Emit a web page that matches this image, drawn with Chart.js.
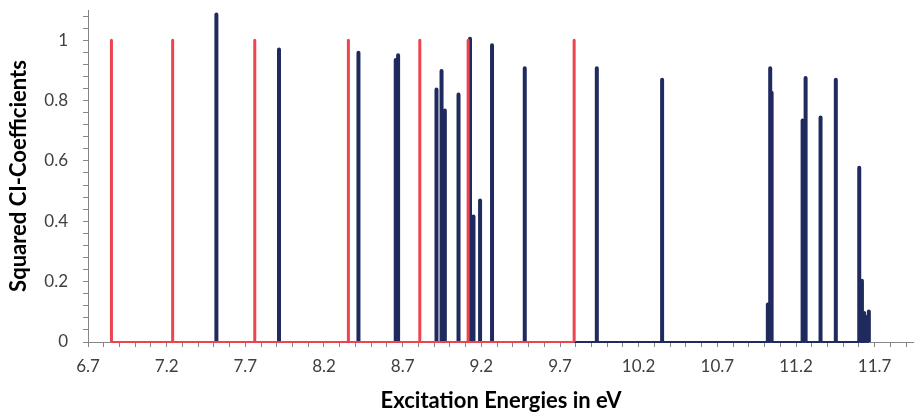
<!DOCTYPE html>
<html>
<head>
<meta charset="utf-8">
<title>Squared CI-Coefficients</title>
<script src="https://cdn.jsdelivr.net/npm/chart.js@4.4.1/dist/chart.umd.min.js"></script>
<style>
  html, body { margin: 0; padding: 0; background: #fff; }
  #wrap { width: 914px; height: 414px; }
</style>
</head>
<body>
<div id="wrap"><canvas id="ciChart"></canvas></div>
<script>
// Excitation energies (eV) and squared CI coefficients
const redEnergies = [6.849, 7.238, 7.760, 8.355, 8.809, 9.116, 9.790];
const redCoeffs = [1, 1, 1, 1, 1, 1, 1];

const blueEnergies = [7.516, 7.914, 8.419, 8.656, 8.671, 8.915, 8.947, 8.968, 9.055, 9.128,
  9.150, 9.192, 9.268, 9.476, 9.934, 10.349, 11.021, 11.036, 11.045, 11.242,
  11.261, 11.356, 11.453, 11.602, 11.619, 11.633, 11.646, 11.663];
const blueCoeffs = [1.085, 0.969, 0.958, 0.934, 0.950, 0.837, 0.898, 0.767, 0.820, 1.005,
  0.416, 0.469, 0.983, 0.907, 0.907, 0.869, 0.124, 0.907, 0.826, 0.734,
  0.875, 0.744, 0.869, 0.577, 0.203, 0.096, 0.083, 0.101];

const xMin = 6.7, xMax = 11.95;
const yMin = 0, yMax = 1.1;

// turn each energy into a stick: up from zero and back down
function sticks(energies, coeffs) {
  const pts = [];
  energies.forEach((e, i) => {
    pts.push({ x: e, y: 0 }, { x: e, y: coeffs[i] }, { x: e, y: 0 });
  });
  return pts;
}

// baseline segments are thinner than the sticks
const segWidth = stick => ctx => (ctx.p0.parsed.y === 0 && ctx.p1.parsed.y === 0 ? 2 : stick);

const axisGray = '#868686';
const tickFont = { family: 'Lato', size: 17 };
const titleFont = { family: 'Lato', size: 22, weight: 'bold' };

const ctx = document.getElementById('ciChart').getContext('2d');
new Chart(ctx, {
  type: 'scatter',
  data: {
    datasets: [
      {
        label: 'red',
        data: sticks(redEnergies, redCoeffs),
        showLine: true,
        borderColor: '#EE4450',
        borderWidth: 3,
        borderJoinStyle: 'round',
        pointRadius: 0,
        clip: 4,
        segment: { borderWidth: segWidth(3) },
        order: 0
      },
      {
        label: 'blue',
        data: sticks(blueEnergies, blueCoeffs),
        showLine: true,
        borderColor: '#1F2A5E',
        borderWidth: 4,
        borderJoinStyle: 'round',
        pointRadius: 0,
        clip: 4,
        segment: { borderWidth: segWidth(4) },
        order: 1
      }
    ]
  },
  options: {
    responsive: true,
    maintainAspectRatio: false,
    animation: false,
    layout: { padding: { top: 10, right: 0, bottom: 0, left: 0 } },
    plugins: {
      legend: { display: false },
      tooltip: { enabled: false }
    },
    scales: {
      x: {
        type: 'linear',
        min: xMin,
        max: xMax,
        border: { color: axisGray, width: 1 },
        grid: { drawOnChartArea: false, drawTicks: true, tickLength: 5, color: axisGray },
        ticks: {
          stepSize: 0.1,
          includeBounds: false,
          autoSkip: false,
          maxTicksLimit: 1000,
          maxRotation: 0,
          minRotation: 0,
          padding: 9,
          color: '#404040',
          font: tickFont,
          callback: v => {
            const k = (v - xMin) / 0.5;
            return Math.abs(k - Math.round(k)) < 1e-6 ? v.toFixed(1) : '';
          }
        },
        title: {
          display: true,
          text: 'Excitation Energies in eV',
          color: '#000',
          font: titleFont,
          padding: { top: 0, bottom: 0 }
        },
        afterFit: scale => {
          scale.height = 72;
          scale.paddingLeft = 0;
          scale.paddingRight = 0;
        }
      },
      y: {
        type: 'linear',
        min: yMin,
        max: yMax,
        border: { color: axisGray, width: 1 },
        grid: { drawOnChartArea: false, drawTicks: true, tickLength: 5, color: axisGray },
        ticks: {
          stepSize: 0.04,
          includeBounds: false,
          autoSkip: false,
          maxTicksLimit: 1000,
          padding: 15,
          color: '#404040',
          font: tickFont,
          callback: v => {
            const k = v * 5;
            return Math.abs(k - Math.round(k)) < 1e-6 ? String(Math.round(k) / 5) : '';
          }
        },
        title: {
          display: true,
          text: 'Squared CI-Coefficients',
          color: '#000',
          font: titleFont,
          padding: { top: 6, bottom: 0 }
        },
        afterFit: scale => {
          scale.width = 88;
          scale.paddingTop = 0;
          scale.paddingBottom = 0;
        }
      }
    }
  }
});
</script>
</body>
</html>
